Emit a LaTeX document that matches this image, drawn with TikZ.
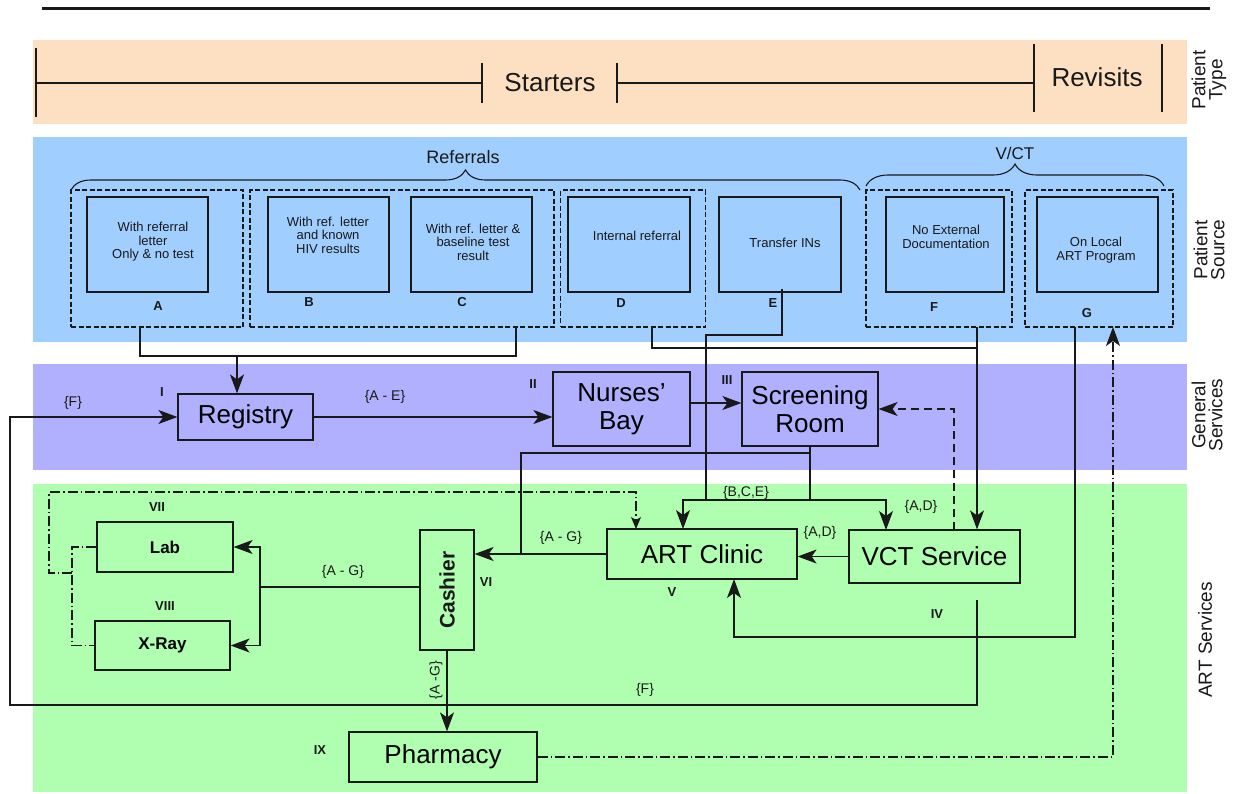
\documentclass[tikz,border=0pt]{standalone}
\usepackage{fontspec}
\setmainfont{Liberation Sans}
\usetikzlibrary{arrows.meta,decorations.pathreplacing,calc}
\definecolor{bandPeach}{RGB}{253,223,193}
\definecolor{bandBlue}{RGB}{160,207,255}
\definecolor{bandPurple}{RGB}{176,176,255}
\definecolor{bandGreen}{RGB}{176,255,176}
\definecolor{ink}{RGB}{25,25,25}
\newcommand{\fsz}[2]{\fontsize{#1}{#2}\selectfont}
\begin{document}
\begin{tikzpicture}[x=1pt,y=-1pt,
  box/.style={draw=ink, line width=1.2pt, inner sep=0pt},
  grp/.style={draw=ink, line width=1.1pt, dash pattern=on 5pt off 2.5pt, inner sep=0pt},
  srcbox/.style={box, minimum width=121pt, minimum height=95pt},
  conn/.style={draw=ink, line width=1.2pt},
  arr/.style={conn, -{Stealth[length=19pt,width=14pt,inset=5pt]}},
  smallarr/.style={conn, -{Stealth[length=12pt,width=10pt,inset=3pt]}},
  ddline/.style={dash pattern=on 10pt off 3pt on 1.5pt off 3pt},
  longdash/.style={dash pattern=on 8pt off 5pt},
  txt/.style={inner sep=0pt, text=ink},
  big/.style={txt, font=\fsz{26}{28}},
  srctxt/.style={txt, align=center, font=\fsz{13}{13.5}},
  tag/.style={txt, font=\bfseries\fsz{13}{14}},
  roman/.style={txt, font=\bfseries\fsz{13}{14}},
  flow/.style={txt, font=\fsz{14}{15}},
  side/.style={txt, rotate=90, align=center, font=\fsz{19}{17}},
  brc/.style={conn, line width=1.1pt, decorate},
]
\useasboundingbox (0,0) rectangle (1234,793);

% swim-lane bands
\fill[bandPeach]  (33,40)  rectangle (1187,124);
\fill[bandBlue]   (33,137) rectangle (1187,342);
\fill[bandPurple] (33,364) rectangle (1187,470);
\fill[bandGreen]  (33,484) rectangle (1187,792);

% heading rule
\draw[ink, line width=3pt] (42,8) -- (1210,8);

% patient type scale
\draw[conn] (36,48) -- (36,117);
\draw[conn] (36,83) -- (482,83);
\draw[conn] (482,63) -- (482,103);
\draw[conn] (617,63) -- (617,103);
\draw[conn] (617,83) -- (1034,83);
\draw[conn] (1034,44) -- (1034,112);
\draw[conn] (1162,44) -- (1162,112);
\node[big] (tStarters) at (550,83) {Starters};
\node[big] (tRevisits) at (1097,77) {Revisits};

% lane titles
\node[side] (tPT) at (1209,80)  {Patient\\Type};
\node[side] (tPS) at (1209,250) {Patient\\Source};
\node[side] (tGS) at (1207,415) {General\\Services};
\node[side] (tAS) at (1205,640) {ART Services};

% patient source groups
\node[txt, font=\fsz{18}{20}] (tRef) at (463,157) {Referrals};
\node[txt, font=\fsz{17}{20}] (tVCT) at (1015,153) {V/CT};
\draw[brc, decoration={brace, amplitude=20pt}] (71,190) -- (860,190);
\draw[brc, decoration={brace, amplitude=22pt}] (866,186) -- (1164,186);

\node[grp, minimum width=172pt, minimum height=137pt] (gA)  at (157,258.5) {};
\node[grp, minimum width=304pt, minimum height=137pt] (gBC) at (402,258.5) {};
\node[grp, minimum width=145pt, minimum height=137pt] (gD)  at (633,258.5) {};
\node[grp, minimum width=146pt, minimum height=137pt] (gF)  at (939,258.5) {};
\node[grp, minimum width=148pt, minimum height=137pt] (gG)  at (1099,258.5) {};

\node[srcbox] (sA) at (147.5,244.5) {};
\node[srcbox] (sB) at (328.5,244.5) {};
\node[srcbox] (sC) at (471.5,244.5) {};
\node[srcbox, minimum width=122pt] (sD) at (629,244.5) {};
\node[srcbox, minimum width=122pt] (sE) at (780,244.5) {};
\node[srcbox, minimum width=118pt] (sF) at (945,244.5) {};
\node[srcbox] (sG) at (1097.5,244.5) {};

\node[srctxt] (xA) at (153,242) {With referral\\letter\\Only \& no test};
\node[srctxt] (xB) at (328,235) {With ref. letter\\and known\\HIV results};
\node[srctxt] (xC) at (473,242) {With ref. letter \&\\baseline test\\result};
\node[srctxt] (xD) at (637,236) {Internal referral};
\node[srctxt] (xE) at (785,243) {Transfer INs};
\node[srctxt] (xF) at (946,237) {No External\\Documentation};
\node[srctxt] (xG) at (1096,250) {On Local\\ART Program};

\node[tag] (lA) at (158,306) {A};
\node[tag] (lB) at (309,302) {B};
\node[tag] (lC) at (462,302) {C};
\node[tag] (lD) at (621,303) {D};
\node[tag] (lE) at (773,303) {E};
\node[tag] (lF) at (934,307) {F};
\node[tag] (lG) at (1087,313) {G};

% service points
\node[box, minimum width=135pt, minimum height=46pt, font=\fsz{26}{28}] (reg) at (245.5,417) {Registry};
\node[box, minimum width=137pt, minimum height=74pt, align=center, font=\fsz{26}{28}] (nb) at (621.5,409) {Nurses'\\Bay};
\node[box, minimum width=136pt, minimum height=74pt, align=center, font=\fsz{26}{28}] (sr) at (810,409) {Screening\\Room};
\node[box, minimum width=190pt, minimum height=50pt, font=\fsz{26}{28}] (art) at (702,554) {ART Clinic};
\node[box, minimum width=171pt, minimum height=53pt, font=\fsz{26}{28}] (vct) at (934.5,556.5) {VCT Service};
\node[box, minimum width=54pt, minimum height=120pt] (cash) at (447,590) {};
\node[txt, rotate=90, font=\bfseries\fsz{21}{22}] (cashT) at (cash) {Cashier};
\node[box, minimum width=136pt, minimum height=50pt, font=\bfseries\fsz{17}{18}] (lab) at (165,547) {Lab};
\node[box, minimum width=135pt, minimum height=49pt, font=\bfseries\fsz{17}{18}] (xray) at (162.5,645.5) {X-Ray};
\node[box, minimum width=188pt, minimum height=50pt, font=\fsz{26}{28}] (ph) at (443,757) {Pharmacy};

\node[roman] (rI)    at (162,392) {I};
\node[roman] (rII)   at (533,384) {II};
\node[roman] (rIII)  at (727,380) {III};
\node[roman] (rIV)   at (937,614) {IV};
\node[roman] (rV)    at (672,592) {V};
\node[roman] (rVI)   at (486,582) {VI};
\node[roman] (rVII)  at (157,507) {VII};
\node[roman] (rVIII) at (165,606) {VIII};
\node[roman] (rIX)   at (320,750) {IX};

% junction points
\coordinate (aOut)  at (140,327);
\coordinate (bcOut) at (516,327);
\coordinate (busA)  at (237,356);
\coordinate (eOut)  at (782,289);
\coordinate (eBend) at (706,335);
\coordinate (eJoin) at (706,500);
\coordinate (dOut)  at (652,327);
\coordinate (dBend) at (977,348);
\coordinate (fOut)  at (977,327);
\coordinate (gOut)  at (1075,327);
\coordinate (gBend) at (1075,637);
\coordinate (artG)  at (734,579);
\coordinate (srJ)   at (810,500);
\coordinate (artIn) at (683,529);
\coordinate (vctIn) at (886,530);
\coordinate (srC)   at (810,453);
\coordinate (cashJ) at (521,554);
\coordinate (vctUp) at (954,530);
\coordinate (fStart) at (977,600);
\coordinate (fLeft) at (10,705);
\coordinate (split) at (260,587);
\coordinate (lx)    at (72,573);
\coordinate (ddc)   at (49,492);
\coordinate (artDD) at (636,529);
\coordinate (gIn)   at (1113,327);

% referral letters to registry
\draw[conn] (aOut) |- (busA) -| (bcOut);
\draw[arr] (busA) -- (busA |- reg.north);

% general services flow
\draw[arr] (reg.east) -- (reg.east -| nb.west);
\node[flow] (fAE) at (385,397) {\{A - E\}};
\draw[arr] ($(nb.east)+(0,-6)$) -- ($(sr.west)+(0,-6)$);

% screening room to clinics
\draw[conn] (sr.south) -- (srJ);
\draw[arr] (srJ) -| (artIn);
\draw[arr] (srJ) -| (vctIn);
\node[flow] (fBCE) at (746,493) {\{B,C,E\}};
\node[flow] (fAD1) at (921,507) {\{A,D\}};
\draw[conn] (srC) -| (cashJ);

% transfer-ins join the clinic bus
\draw[conn] (eOut) |- (eBend) -- (eJoin);

% internal referrals and V/CT to VCT service
\draw[conn] (dOut) |- (dBend);
\draw[arr] (fOut) -- (fOut |- vct.north);

% local ART programme back to ART clinic
\draw[arr] (gOut) -- (gBend) -| (artG);

% VCT service to ART clinic and back to screening
\draw[arr] (vct.west) -- (vct.west -| art.east);
\node[flow] (fAD2) at (820,533) {\{A,D\}};
\draw[arr, longdash] (vctUp) |- (sr.east);

% VCT service to registry
\draw[arr] (fStart) |- (fLeft) |- (reg.west);
\node[flow] (fF1) at (645,690) {\{F\}};
\node[flow] (fF2) at (73,403) {\{F\}};

% ART clinic to cashier
\draw[arr] (art.west) -- (art.west -| cash.east);
\node[flow] (fAG1) at (561,538) {\{A - G\}};

% cashier to lab and x-ray
\draw[conn] (cash.west |- split) -- (split);
\draw[arr] (split) |- (lab.east);
\draw[arr] (split) |- (xray.east);
\node[flow] (fAG2) at (343,572) {\{A - G\}};

% results back to ART clinic
\draw[conn, ddline] (lab.west) -| (lx) |- (xray.west);
\draw[smallarr, ddline] (lx) -| (ddc) -| (artDD);

% cashier to pharmacy
\draw[arr] (cash.south) -- (cash.south |- ph.north);
\node[flow, rotate=90] (fAG3) at (436,680) {\{A -G\}};

% pharmacy back to local ART programme
\draw[arr, ddline] (ph.east) -| (gIn);
\end{tikzpicture}
\end{document}
